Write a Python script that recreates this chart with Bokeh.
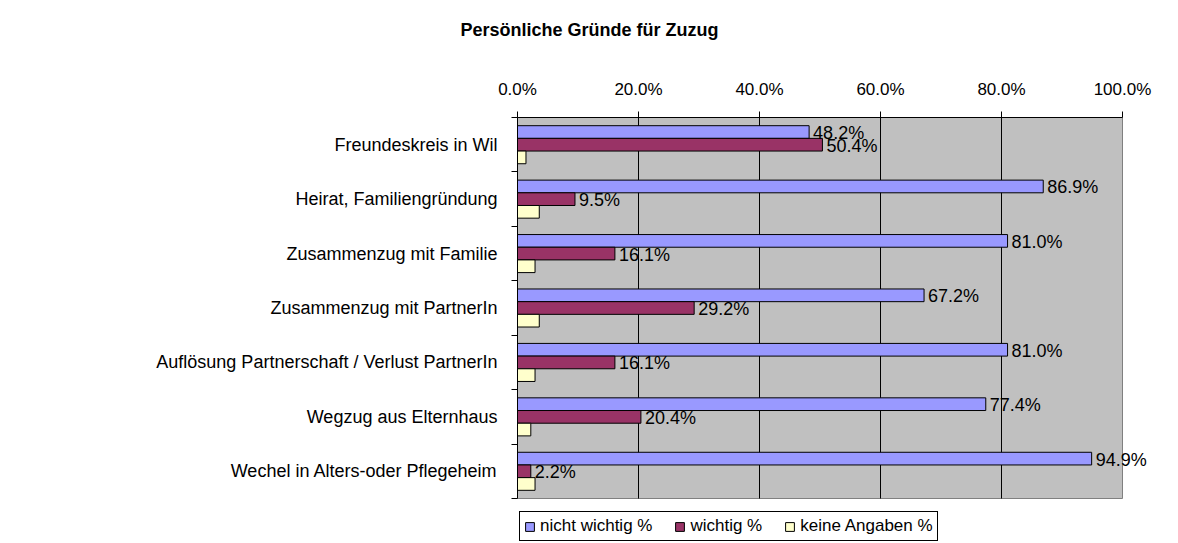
from bokeh.plotting import figure
from bokeh.models import (Range1d, FixedTicker, Title, ColumnDataSource, LabelSet)
from bokeh.core.properties import value
from bokeh.transform import dodge
from bokeh.embed import file_html
from bokeh.resources import INLINE

categories = ["Freundeskreis in Wil", "Heirat, Familiengründung", "Zusammenzug mit Familie",
              "Zusammenzug mit PartnerIn", "Auflösung Partnerschaft / Verlust PartnerIn",
              "Wegzug aus Elternhaus", "Wechel in Alters-oder Pflegeheim"]
nicht_wichtig = [48.2, 86.9, 81.0, 67.2, 81.0, 77.4, 94.9]
wichtig = [50.4, 9.5, 16.1, 29.2, 16.1, 20.4, 2.2]
keine_angaben = [1.4, 3.6, 2.9, 3.6, 2.9, 2.2, 2.9]
series_names = ["nicht wichtig %", "wichtig %", "keine Angaben %"]
x_ticks = [0, 20, 40, 60, 80, 100]
x_tick_labels = ["0.0%", "20.0%", "40.0%", "60.0%", "80.0%", "100.0%"]
title_text = "Persönliche Gründe für Zuzug"

FONT = "Liberation Sans"
W, H = 1178, 543
n = len(categories)
slot = [n - i - 0.5 for i in range(n)]  # category slot centres, top first

# layout geometry (pixels) -> ranges that leave room for labels/legend
PX_X = 6.05    # px per percent
PX_Y = 54.43   # px per category
LEFT, TOP = 517, 117
x_end = (W - LEFT) / PX_X
y_start = -(H - TOP - n * PX_Y) / PX_Y

p = figure(width=W, height=H, output_backend="svg", toolbar_location=None,
           x_range=Range1d(0, x_end), y_range=Range1d(y_start, n),
           x_axis_location="above", y_axis_location="left", title=None,
           min_border_left=LEFT, min_border_right=0, min_border_top=TOP,
           min_border_bottom=0)
p.background_fill_color = "white"
p.border_fill_color = "white"
p.outline_line_color = None
p.xgrid.visible = False
p.ygrid.visible = False

# plot area
p.quad(left=x_ticks[0], right=x_ticks[-1], bottom=0, top=n,
       fill_color="#C0C0C0", line_color="#808080", line_width=1)
# vertical grid lines
p.segment(x0=x_ticks[1:-1], x1=x_ticks[1:-1], y0=[0] * 4, y1=[n] * 4,
          line_color="black", line_width=1)

src = ColumnDataSource(dict(
    slot=slot, nw=nicht_wichtig, w=wichtig, ka=keine_angaben,
    nw_lab=[f"{v:.1f}%" for v in nicht_wichtig],
    w_lab=[f"{v:.1f}%" for v in wichtig],
))

bh = 0.233
cols = ["nw", "w", "ka"]
colors = ["#9999FF", "#993366", "#FFFFCC"]
offs = [bh, 0.0, -bh]
for c, col, off, name in zip(cols, colors, offs, series_names):
    p.hbar(y=dodge("slot", off), left=0, right=c, height=bh,
           source=src, fill_color=col, line_color="black", line_width=1,
           legend_label=name)

for c, lab, off in zip(["nw", "w"], ["nw_lab", "w_lab"], offs[:2]):
    ls = LabelSet(x=c, y=dodge("slot", off), text=lab, source=src,
                  x_offset=4, y_offset=-1, text_baseline="middle", text_align="left",
                  text_font=value(FONT), text_font_size="18px", text_color="black")
    p.add_layout(ls)

# top axis
xa = p.xaxis[0]
xa.ticker = FixedTicker(ticks=x_ticks, minor_ticks=[])
xa.bounds = (x_ticks[0], x_ticks[-1])
xa.major_label_overrides = {t: l for t, l in zip(x_ticks, x_tick_labels)}
xa.major_label_text_font = FONT
xa.major_label_text_font_size = "17px"
xa.major_label_text_color = "black"
xa.major_tick_out = 6
xa.major_tick_in = 0
xa.major_tick_line_color = "black"
xa.axis_line_color = "black"
xa.major_label_standoff = 13

# left axis: labels at category centres, ticks at boundaries
ya = p.yaxis[0]
ya.ticker = FixedTicker(ticks=slot, minor_ticks=list(range(n + 1)))
ya.bounds = (0, n)
ya.major_label_overrides = {s: c for s, c in zip(slot, categories)}
ya.major_tick_line_color = None
ya.major_tick_out = 0
ya.major_tick_in = 0
ya.minor_tick_out = 6
ya.minor_tick_in = 0
ya.minor_tick_line_color = "black"
ya.axis_line_color = "black"
ya.major_label_standoff = 14
ya.major_label_text_font = FONT
ya.major_label_text_font_size = "18px"
ya.major_label_text_color = "black"

# title
p.add_layout(Title(text=" ", text_font_size="18px"), "above")
p.add_layout(Title(text=title_text, align="left", offset=-57, text_font=FONT,
                   text_font_size="18px", text_font_style="bold", text_color="black"),
             "above")

lg = p.legend[0]
lg.location = (2, 2)
lg.orientation = "horizontal"
lg.label_text_font = FONT
lg.label_text_font_size = "17px"
lg.label_text_color = "black"
lg.glyph_width = 11
lg.glyph_height = 11
lg.label_standoff = 5
lg.spacing = 22
lg.padding = 4
lg.margin = 0
lg.border_line_color = "black"
lg.border_line_width = 1
lg.border_line_alpha = 1
lg.background_fill_color = "white"
lg.background_fill_alpha = 1

open("out.html", "w").write(file_html(p, INLINE))
